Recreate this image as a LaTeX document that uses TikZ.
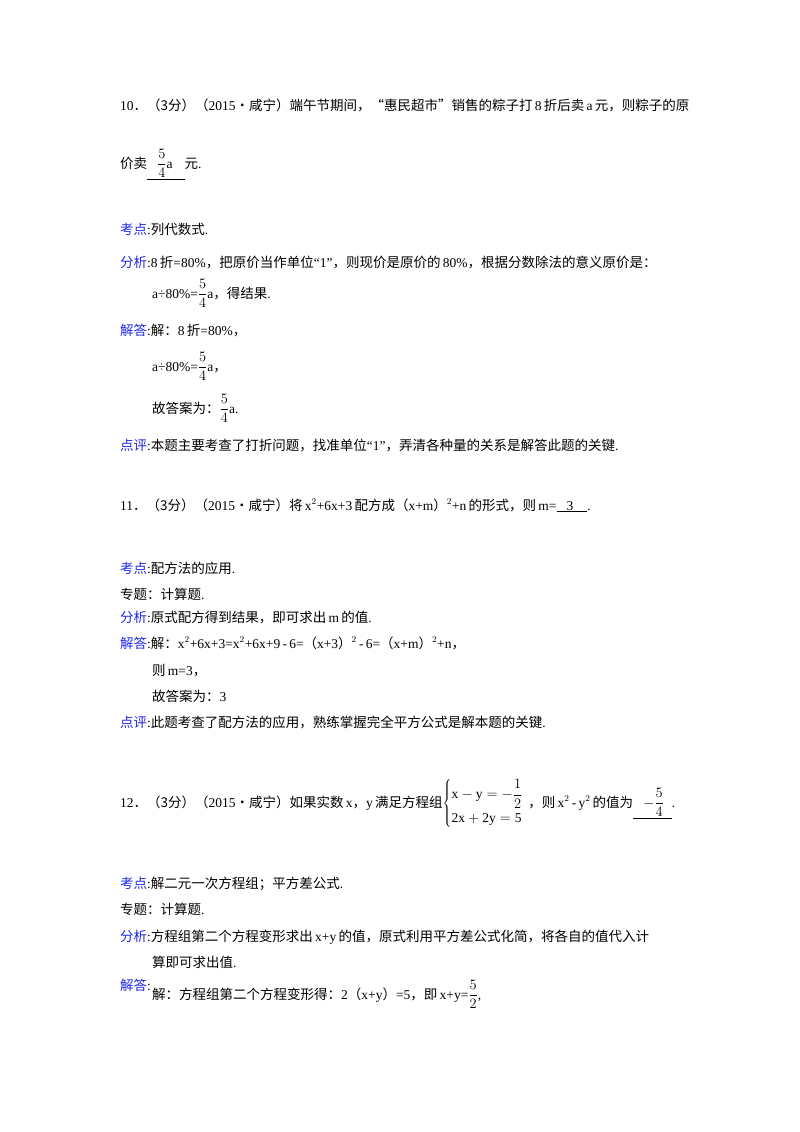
\documentclass[tikz,border=0pt]{standalone}
\usepackage{fontspec}
\setmainfont{Liberation Serif}
\newfontfamily\cj{Noto Sans CJK SC}
\definecolor{lblue}{RGB}{30,40,230}
\newcommand{\fr}[2]{$\displaystyle\frac{#1}{#2}$}
\begin{document}
\begin{tikzpicture}[x=1pt,y=-1pt,
  txt/.style={anchor=base west,inner sep=0pt,font=\fontsize{13.5}{16}\selectfont},
  lab/.style={txt,text=lblue}]
\useasboundingbox (0,0) rectangle (800,1132);
% Q10
\node[txt] (q10) at (120,110) {10{\cj ．（3分）（}2015{\cj •咸宁）端午节期间，“惠民超市”销售的粽子打}\,8\,{\cj 折后卖}\,a\,{\cj 元，则粽子的原}};
\node[txt] (q10b) at (120,168) {{\cj 价卖}\underline{\hbox to 10pt{}\fr{5}{4}a\hbox to 12pt{}}{\cj 元}.};
\node[lab] (k1) at (120,234) {{\cj 考点}};
\node[txt] (k1t) at (147,234) {:{\cj 列代数式}.};
\node[lab] (f1) at (120,267) {{\cj 分析}};
\node[txt] (f1t) at (147,267) {:8\,{\cj 折}=80\%{\cj ，把原价当作单位}“1”{\cj ，则现价是原价的}\,80\%{\cj ，根据分数除法的意义原价是：}};
\node[txt] (f1b) at (152,298) {a÷80\%=\fr{5}{4}a{\cj ，得结果}.};
\node[lab] (j1) at (120,335) {{\cj 解答}};
\node[txt] (j1t) at (147,335) {:{\cj 解：}8\,{\cj 折}=80\%{\cj ，}};
\node[txt] (j1b) at (152,371) {a÷80\%=\fr{5}{4}a{\cj ，}};
\node[txt] (j1c) at (152,413) {{\cj 故答案为：}\fr{5}{4}a.};
\node[lab] (d1) at (120,450) {{\cj 点评}};
\node[txt] (d1t) at (147,450) {:{\cj 本题主要考查了打折问题，找准单位}“1”{\cj ，弄清各种量的关系是解答此题的关键}.};
% Q11
\node[txt] (q11) at (120,510) {11{\cj ．（3分）（}2015{\cj •咸宁）将}\,x$^2$+6x+3\,{\cj 配方成（}x+m{\cj ）}$^2$+n\,{\cj 的形式，则}\,m=\underline{\hbox to 10pt{}3\hbox to 14pt{}}.};
\node[lab] (k2) at (120,573) {{\cj 考点}};
\node[txt] (k2t) at (147,573) {:{\cj 配方法的应用}.};
\node[txt] (z2) at (120,599) {{\cj 专题：计算题}.};
\node[lab] (f2) at (120,622) {{\cj 分析}};
\node[txt] (f2t) at (147,622) {:{\cj 原式配方得到结果，即可求出}\,m\,{\cj 的值}.};
\node[lab] (j2) at (120,648) {{\cj 解答}};
\node[txt] (j2t) at (147,648) {:{\cj 解：}x$^2$+6x+3=x$^2$+6x+9\,-\,6={\cj （}x+3{\cj ）}$^2$\,-\,6={\cj （}x+m{\cj ）}$^2$+n{\cj ，}};
\node[txt] (j2b) at (152,675) {{\cj 则}\,m=3{\cj ，}};
\node[txt] (j2c) at (152,701) {{\cj 故答案为：}3};
\node[lab] (d2) at (120,727) {{\cj 点评}};
\node[txt] (d2t) at (147,727) {:{\cj 此题考查了配方法的应用，熟练掌握完全平方公式是解本题的关键}.};
% Q12
\node[txt] (q12) at (120,807) {12{\cj ．（3分）（}2015{\cj •咸宁）如果实数}\,x{\cj ，}y\,{\cj 满足方程组}$\left\{\begin{array}{@{}l}\mathrm{x-y=-}\displaystyle\frac{1}{2}\\[8pt]\mathrm{2x+2y=5}\end{array}\right.${\cj ，则}\,x$^2$\,-\,y$^2$\,{\cj 的值为}\underline{\hbox to 10pt{}$\displaystyle-\frac{5}{4}$\hbox to 8pt{}}.};
\node[lab] (k3) at (120,888) {{\cj 考点}};
\node[txt] (k3t) at (147,888) {:{\cj 解二元一次方程组；平方差公式}.};
\node[txt] (z3) at (120,914) {{\cj 专题：计算题}.};
\node[lab] (f3) at (120,941) {{\cj 分析}};
\node[txt] (f3t) at (147,941) {:{\cj 方程组第二个方程变形求出}\,x+y\,{\cj 的值，原式利用平方差公式化简，将各自的值代入计}};
\node[txt] (f3b) at (152,967) {{\cj 算即可求出值}.};
\node[lab] (j3) at (120,990) {{\cj 解答}};
\node[txt] (j3t) at (147,990) {:};
\node[txt] (j3b) at (152,999) {{\cj 解：方程组第二个方程变形得：}2{\cj （}x+y{\cj ）}=5{\cj ，即}\,x+y=\fr{5}{2},};
\end{tikzpicture}
\end{document}
